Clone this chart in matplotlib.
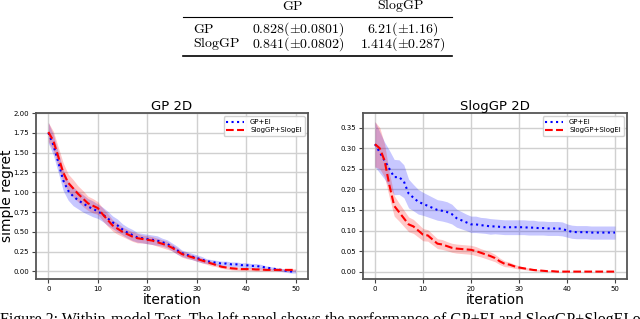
import numpy as np
import matplotlib.pyplot as plt

plt.rcParams['mathtext.fontset'] = 'cm'

iters = np.arange(51)

# left panel: GP 2D
gp_ei_left = [1.75, 1.60, 1.38, 1.15, 1.02, 0.95, 0.90, 0.86, 0.82, 0.79,
              0.76, 0.72, 0.67, 0.62, 0.58, 0.53, 0.49, 0.46, 0.43, 0.42,
              0.41, 0.40, 0.39, 0.37, 0.35, 0.31, 0.27, 0.23, 0.21, 0.19,
              0.17, 0.15, 0.13, 0.12, 0.11, 0.10, 0.10, 0.09, 0.09, 0.08,
              0.08, 0.07, 0.07, 0.06, 0.05, 0.04, 0.03, 0.02, 0.01, 0.0, 0.0]
gp_ei_left_sd = [0.13, 0.13, 0.13, 0.13, 0.12, 0.12, 0.11, 0.11, 0.10, 0.10,
                 0.09, 0.09, 0.09, 0.08, 0.08, 0.07, 0.07, 0.07, 0.06, 0.06,
                 0.06, 0.06, 0.06, 0.05, 0.05, 0.05, 0.05, 0.04, 0.04, 0.04,
                 0.04, 0.04, 0.03, 0.03, 0.03, 0.03, 0.03, 0.03, 0.03, 0.03,
                 0.03, 0.03, 0.03, 0.03, 0.02, 0.02, 0.02, 0.02, 0.02, 0.02, 0.02]
slog_left = [1.76, 1.65, 1.45, 1.25, 1.12, 1.05, 0.98, 0.92, 0.86, 0.83,
             0.80, 0.72, 0.65, 0.58, 0.54, 0.50, 0.47, 0.44, 0.42, 0.41,
             0.40, 0.39, 0.37, 0.35, 0.33, 0.30, 0.26, 0.22, 0.20, 0.18,
             0.16, 0.14, 0.12, 0.10, 0.08, 0.06, 0.05, 0.04, 0.035, 0.03,
             0.03, 0.03, 0.025, 0.025, 0.02, 0.02, 0.02, 0.02, 0.02, 0.02, 0.02]
slog_left_sd = [0.12, 0.12, 0.12, 0.12, 0.11, 0.11, 0.10, 0.10, 0.09, 0.09,
                0.08, 0.08, 0.08, 0.07, 0.07, 0.06, 0.06, 0.06, 0.06, 0.05,
                0.05, 0.05, 0.05, 0.05, 0.05, 0.04, 0.04, 0.04, 0.04, 0.03,
                0.03, 0.03, 0.03, 0.03, 0.02, 0.02, 0.02, 0.02, 0.02, 0.02,
                0.02, 0.02, 0.02, 0.02, 0.015, 0.015, 0.015, 0.015, 0.015, 0.015, 0.015]

# right panel: SlogGP 2D
gp_ei_right = [0.31, 0.29, 0.27, 0.25, 0.23, 0.23, 0.22, 0.19, 0.18, 0.17,
               0.165, 0.16, 0.155, 0.15, 0.148, 0.145, 0.14, 0.13, 0.125, 0.12,
               0.115, 0.115, 0.113, 0.112, 0.11, 0.11, 0.109, 0.108, 0.108, 0.108,
               0.108, 0.108, 0.107, 0.107, 0.106, 0.106, 0.105, 0.105, 0.105, 0.104,
               0.10, 0.097, 0.096, 0.096, 0.096, 0.095, 0.095, 0.095, 0.095, 0.095, 0.095]
gp_ei_right_sd = [0.055, 0.05, 0.045, 0.045, 0.043, 0.042, 0.04, 0.035, 0.032, 0.03,
                  0.028, 0.027, 0.026, 0.025, 0.025, 0.025, 0.024, 0.022, 0.021, 0.02,
                  0.02, 0.02, 0.019, 0.019, 0.019, 0.018, 0.018, 0.018, 0.018, 0.018,
                  0.018, 0.018, 0.018, 0.018, 0.017, 0.017, 0.017, 0.017, 0.017, 0.017,
                  0.016, 0.016, 0.016, 0.016, 0.016, 0.016, 0.016, 0.016, 0.016, 0.016, 0.016]
slog_right = [0.31, 0.30, 0.27, 0.21, 0.16, 0.145, 0.13, 0.115, 0.11, 0.10,
              0.09, 0.088, 0.078, 0.068, 0.066, 0.062, 0.058, 0.056, 0.055, 0.054,
              0.053, 0.05, 0.046, 0.042, 0.038, 0.033, 0.025, 0.019, 0.017, 0.013,
              0.010, 0.008, 0.006, 0.004, 0.003, 0.002, 0.001, 0.001, 0.0, 0.0,
              0.0, 0.0, 0.0, 0.0, 0.0, 0.0, 0.0, 0.0, 0.0, 0.0, 0.0]
slog_right_sd = [0.055, 0.05, 0.04, 0.03, 0.025, 0.022, 0.02, 0.018, 0.017, 0.016,
                 0.015, 0.014, 0.013, 0.012, 0.012, 0.011, 0.011, 0.011, 0.011, 0.011,
                 0.011, 0.011, 0.010, 0.010, 0.010, 0.009, 0.008, 0.007, 0.006, 0.005,
                 0.004, 0.003, 0.003, 0.002, 0.002, 0.001, 0.001, 0.001, 0.0, 0.0,
                 0.0, 0.0, 0.0, 0.0, 0.0, 0.0, 0.0, 0.0, 0.0, 0.0, 0.0]

table_cols = ['GP', 'SlogGP']
table_rows = ['GP', 'SlogGP']
table_vals = [[r'0.828(\pm0.0801)', r'6.21(\pm1.16)'],
              [r'0.841(\pm0.0802)', r'1.414(\pm0.287)']]

caption = ('Figure 2: Within-model Test. The left panel shows the performance '
           'of GP+EI and SlogGP+SlogEI on')

W, H = 640, 319
fig = plt.figure(figsize=(6.4, 3.19), dpi=100)


def panel(rect, title, ei, ei_sd, slog, slog_sd, ylim, yticks):
    ax = fig.add_axes(rect)
    ei, ei_sd = np.array(ei), np.array(ei_sd)
    slog, slog_sd = np.array(slog), np.array(slog_sd)
    ax.fill_between(iters, ei - ei_sd, ei + ei_sd, color='blue', alpha=0.22, lw=0)
    ax.fill_between(iters, slog - slog_sd, slog + slog_sd, color='red', alpha=0.22, lw=0)
    ax.plot(iters, ei, color='blue', ls=':', lw=1.5, label='GP+EI')
    ax.plot(iters, slog, color='red', ls='--', lw=1.5, label='SlogGP+SlogEI')
    ax.set_xlim(-2.5, 52.5)
    ax.set_ylim(*ylim)
    ax.set_yticks(yticks)
    ax.set_xticks([0, 10, 20, 30, 40, 50])
    ax.yaxis.set_major_formatter(plt.FormatStrFormatter('%.2f'))
    ax.grid(True, color='#d0d0d0', lw=1)
    ax.set_axisbelow(True)
    ax.tick_params(labelsize=5, length=3, pad=2, color='#444444')
    for s in ax.spines.values():
        s.set_color('#555555')
        s.set_linewidth(1.3)
    ax.set_title(title, fontsize=9.5, pad=2)
    ax.set_xlabel('iteration', fontsize=10, labelpad=1)
    ax.legend(loc='upper right', fontsize=5, handlelength=2.6, framealpha=0.9,
              borderpad=0.4, labelspacing=0.3)
    return ax


ax1 = panel([36 / W, 1 - 279 / H, 272 / W, 166 / H], 'GP 2D',
            gp_ei_left, gp_ei_left_sd, slog_left, slog_left_sd,
            (-0.095, 2.0), np.arange(0, 2.01, 0.25))
ax1.set_ylabel('simple regret', fontsize=10)
ax1.yaxis.set_label_coords(-0.08, 0.5)

ax2 = panel([363 / W, 1 - 279 / H, 264 / W, 166 / H], 'SlogGP 2D',
            gp_ei_right, gp_ei_right_sd, slog_right, slog_right_sd,
            (-0.018, 0.386), np.arange(0, 0.351, 0.05))

# table on top
tfs = 10
col_x = [293, 400]
cell_x = [298, 403]
row_y = [29, 44]
fig.text(col_x[0] / W, 1 - 6 / H, r'$\mathrm{%s}$' % table_cols[0], ha='center', va='center', fontsize=tfs)
fig.text(col_x[1] / W, 1 - 6 / H, r'$\mathrm{%s}$' % table_cols[1], ha='center', va='center', fontsize=tfs)
for i, r in enumerate(table_rows):
    fig.text(193 / W, 1 - row_y[i] / H, r'$\mathrm{%s}$' % r, ha='left', va='center', fontsize=tfs)
    for j in range(2):
        fig.text(cell_x[j] / W, 1 - row_y[i] / H, '$' + table_vals[i][j] + '$',
                 ha='center', va='center', fontsize=tfs)
for yy, lw in [(17, 0.8), (56, 1.2)]:
    fig.add_artist(plt.Line2D([183 / W, 452 / W], [1 - yy / H, 1 - yy / H], color='black', lw=lw))

fig.text(0, 1 - 312 / H, caption, ha='left', va='top', fontsize=11.5,
         family='Liberation Serif')

fig.savefig('out.png', dpi=100)
